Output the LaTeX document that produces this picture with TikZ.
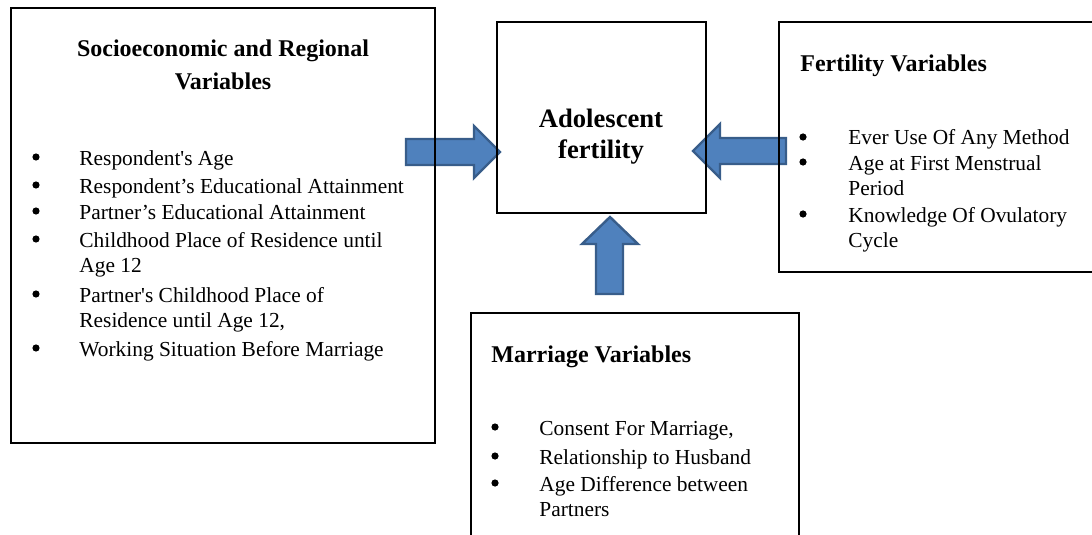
\documentclass[tikz,border=0pt]{standalone}
\usepackage{fontspec}
\setmainfont{Liberation Serif}
\definecolor{arrowfill}{HTML}{4F81BD}
\definecolor{arrowline}{HTML}{385D8A}
\begin{document}
\begin{tikzpicture}[x=0.5pt,y=-0.5pt,
  box/.style={draw=black,line width=1pt,inner sep=0pt,outer sep=0pt,anchor=north west},
  blockarrow/.style={fill=arrowfill,draw=arrowline,line width=1.2pt,line join=miter},
  txt/.style={inner sep=0pt,anchor=base west,font=\fontsize{10.7}{12.5}\selectfont},
  bul/.style={circle,fill=black,inner sep=0pt,minimum size=3.6pt},
  ttl/.style={inner sep=0pt,font=\fontsize{12}{14}\selectfont\bfseries},
  ctr/.style={inner sep=0pt,anchor=base,font=\fontsize{13.3}{15}\selectfont\bfseries}]
\useasboundingbox (0,0) rectangle (1092,535);
\clip (0,0) rectangle (1092,535);
% block arrows (drawn below the box outlines)
\path[blockarrow] (406,139) -- (474,139) -- (474,126) -- (500,152) -- (474,178) -- (474,165) -- (406,165) -- cycle;
\path[blockarrow] (786,138) -- (720,138) -- (720,124) -- (693,151) -- (720,178) -- (720,164) -- (786,164) -- cycle;
\path[blockarrow] (596,294) -- (596,244) -- (582,244) -- (610,217) -- (638,244) -- (623,244) -- (623,294) -- cycle;
% boxes
\node[box,minimum width=212pt,minimum height=217.5pt] (socio) at (11,8) {};
\node[box,minimum width=104.5pt,minimum height=95.5pt] (adol) at (497,22) {};
\node[box,minimum width=160pt,minimum height=125pt] (fert) at (779,22) {};
\node[box,minimum width=164pt,minimum height=130pt] (marr) at (471,313) {};
% centre
\node[ctr] (c1) at (601,127) {Adolescent};
\node[ctr] (c2) at (601,158) {fertility};
% left box
\node[ttl,anchor=base] (st1) at (223,57) {Socioeconomic and Regional};
\node[ttl,anchor=base] (st2) at (223,90) {Variables};
\node[bul] (sb1) at (36,157) {};
\node[txt] (s1) at (79,165) {Respondent\textquotesingle s Age};
\node[bul] (sb2) at (36,185) {};
\node[txt] (s2) at (79,193) {Respondent’s Educational Attainment};
\node[bul] (sb3) at (36,211) {};
\node[txt] (s3) at (79,219) {Partner’s Educational Attainment};
\node[bul] (sb4) at (36,239) {};
\node[txt] (s4) at (79,247) {Childhood Place of Residence until};
\node[txt] (s4b) at (79,272) {Age 12};
\node[bul] (sb5) at (36,294) {};
\node[txt] (s5) at (79,302) {Partner\textquotesingle s Childhood Place of};
\node[txt] (s5b) at (79,327) {Residence until Age 12,};
\node[bul] (sb6) at (36,348) {};
\node[txt] (s6) at (79,356) {Working Situation Before Marriage};
% right box
\node[ttl,anchor=base west] (ft) at (800,72) {Fertility Variables};
\node[bul] (fb1) at (803,137) {};
\node[txt] (f1) at (848,145) {Ever Use Of Any Method};
\node[bul] (fb2) at (803,162) {};
\node[txt] (f2) at (848,170) {Age at First Menstrual};
\node[txt] (f2b) at (848,195) {Period};
\node[bul] (fb3) at (803,214) {};
\node[txt] (f3) at (848,222) {Knowledge Of Ovulatory};
\node[txt] (f3b) at (848,247) {Cycle};
% bottom box
\node[ttl,anchor=base west] (mt) at (491,362) {Marriage Variables};
\node[bul] (mb1) at (495,427) {};
\node[txt] (m1) at (539,435) {Consent For Marriage,};
\node[bul] (mb2) at (495,456) {};
\node[txt] (m2) at (539,464) {Relationship to Husband};
\node[bul] (mb3) at (495,483) {};
\node[txt] (m3) at (539,491) {Age Difference between};
\node[txt] (m3b) at (539,516) {Partners};
\end{tikzpicture}
\end{document}
